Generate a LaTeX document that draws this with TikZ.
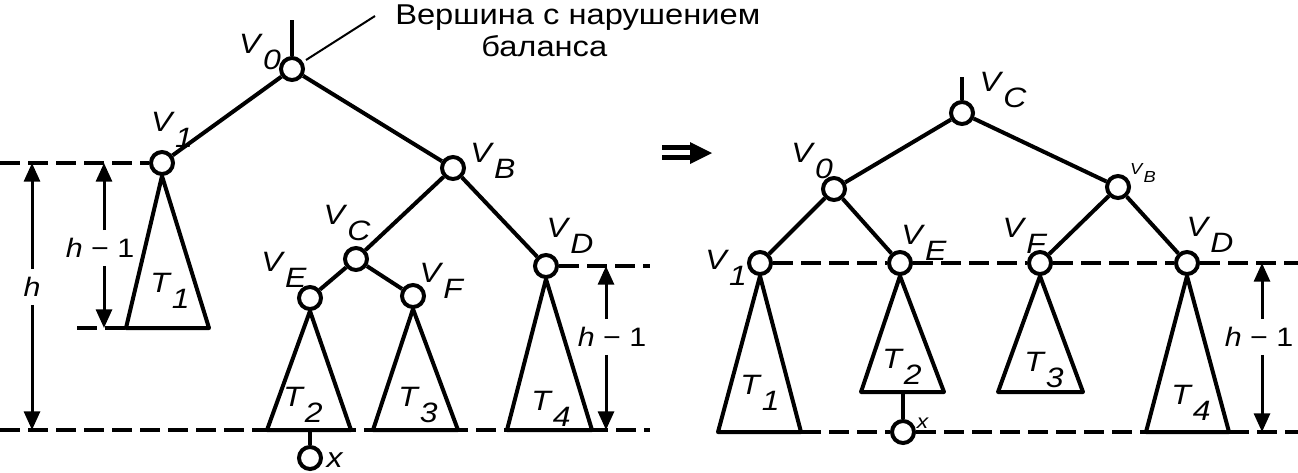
\documentclass[tikz,border=0pt]{standalone}
\usepackage{fontspec}
\setmainfont[FakeStretch=1.14]{Liberation Sans}
\usetikzlibrary{arrows.meta}
\newcommand\lab[2]{\textit{#1}\raisebox{-0.55em}{\textit{#2}}}
\begin{document}
\begin{tikzpicture}[x=0.75pt,y=-0.75pt,
  vert/.style={circle,draw,line width=3pt,minimum size=16.5pt,inner sep=0pt,fill=white},
  edge/.style={line width=3pt},
  dashln/.style={line width=3pt,dash pattern=on 15pt off 6pt},
  dim/.style={line width=2.25pt,-{Triangle[length=14pt,width=12pt]}},
  lbl/.style={inner sep=0pt,font=\fontsize{21}{21}\selectfont},
  slbl/.style={inner sep=0pt,font=\fontsize{12}{12}\selectfont},
  xlbl/.style={inner sep=0pt,font=\fontsize{15}{15}\selectfont},
  dlbl/.style={inner sep=6pt,font=\fontsize{20}{20}\selectfont},
  txt/.style={inner sep=0pt,anchor=west,font=\fontsize{21.5}{22}\selectfont},
  tri/.style={line width=3pt,line join=round}]
\useasboundingbox (0,0) rectangle (1298,472);

% ---------- left tree ----------
\node[vert] (v0) at (292,69) {};
\node[vert] (v1) at (162,163) {};
\node[vert] (vB) at (453,168) {};
\node[vert] (vC) at (356,259) {};
\node[vert] (vD) at (546,266) {};
\node[vert] (vE) at (310,298) {};
\node[vert] (vF) at (413,296) {};
\node[vert] (x1) at (310,458) {};
\coordinate (top0) at (292,20);
\coordinate (lead0) at (306,60);
\coordinate (lead1) at (375,16);

\draw[edge] (v0) -- (v1);
\draw[edge] (v0) -- (vB);
\draw[edge] (vB) -- (vC);
\draw[edge] (vB) -- (vD);
\draw[edge] (vC) -- (vE);
\draw[edge] (vC) -- (vF);
\draw[edge] (v0.north) -- (top0);
\draw[line width=1.5pt] (lead0) -- (lead1);

\node[txt] (t1) at (395,18) {Вершина с нарушением};
\node[txt] (t2) at (481,46) {баланса};

% subtrees
\coordinate (T1l) at (126,328); \coordinate (T1r) at (209,328);
\coordinate (T2l) at (267,430); \coordinate (T2r) at (351,430);
\coordinate (T3l) at (373,430); \coordinate (T3r) at (458,430);
\coordinate (T4l) at (507,430); \coordinate (T4r) at (592,430);
\coordinate (T2m) at (310,430);
\draw[tri] (v1.south) -- (T1l) -- (T1r) -- cycle;
\draw[tri] (vE.south) -- (T2l) -- (T2r) -- cycle;
\draw[tri] (vF.south) -- (T3l) -- (T3r) -- cycle;
\draw[tri] (vD.south) -- (T4l) -- (T4r) -- cycle;
\draw[edge] (T2m) -- (x1.north);

% dashed levels
\coordinate (dA) at (0,163);
\coordinate (dB) at (77,328);
\coordinate (dC) at (650,266);
\coordinate (dD) at (0,430);
\coordinate (dE) at (650,430);
\draw[dashln] (dA) -- (v1.west);
\draw[dashln] (dB) -- (T1l);
\draw[dashln] (vD.east) -- (dC);
\draw[dashln] (dD) -- (dE);

% labels
\node[lbl] (l0) at (260,52) {\lab{V}{0}};
\node[lbl] (l1) at (172,130) {\lab{V}{1}};
\node[lbl] (lB) at (493,161) {\lab{V}{B}};
\node[lbl] (lC) at (347,223) {\lab{V}{C}};
\node[lbl] (lE) at (284,270) {\lab{V}{E}};
\node[lbl] (lF) at (442,281) {\lab{V}{F}};
\node[lbl] (lD) at (570,236) {\lab{V}{D}};
\node[lbl] (lT1) at (170,291) {\lab{T}{1}};
\node[lbl] (lT2) at (303,405) {\lab{T}{2}};
\node[lbl] (lT3) at (418,405) {\lab{T}{3}};
\node[lbl] (lT4) at (551,409) {\lab{T}{4}};
\node[lbl] (lx) at (335,460) {\textit{x}};

% dimension arrows
\node[dlbl] (h) at (32,287) {\textit{h}};
\coordinate (hT) at (32,163); \coordinate (hB) at (32,430);
\draw[dim] (h) -- (hT);
\draw[dim] (h) -- (hB);
\node[dlbl] (h1) at (100,248) {\textit{h} − 1};
\coordinate (h1T) at (104,163); \coordinate (h1B) at (104,328);
\draw[dim] (h1.north -| h1T) -- (h1T);
\draw[dim] (h1.south -| h1B) -- (h1B);
\node[dlbl] (h2) at (612,337) {\textit{h} − 1};
\coordinate (h2T) at (606,266); \coordinate (h2B) at (606,430);
\draw[dim] (h2.north -| h2T) -- (h2T);
\draw[dim] (h2.south -| h2B) -- (h2B);

% implication arrow
\fill (662,145) rectangle (694,150);
\fill (662,155) rectangle (694,160);
\fill (690,142) -- (712,153) -- (690,164) -- cycle;

% ---------- right tree ----------
\node[vert] (rC) at (962,113) {};
\node[vert] (r0) at (834,189) {};
\node[vert] (rB) at (1118,187) {};
\node[vert] (r1) at (760,263) {};
\node[vert] (rE) at (900,263) {};
\node[vert] (rF) at (1040,263) {};
\node[vert] (rD) at (1187,263) {};
\node[vert] (x2) at (903,432) {};
\coordinate (topC) at (962,77);
\draw[edge] (rC.north) -- (topC);
\draw[edge] (rC) -- (r0);
\draw[edge] (rC) -- (rB);
\draw[edge] (r0) -- (r1);
\draw[edge] (r0) -- (rE);
\draw[edge] (rB) -- (rF);
\draw[edge] (rB) -- (rD);

\coordinate (R1l) at (718,432); \coordinate (R1r) at (801,432);
\coordinate (R2l) at (861,392); \coordinate (R2r) at (944,392);
\coordinate (R3l) at (998,392); \coordinate (R3r) at (1083,392);
\coordinate (R4l) at (1146,432); \coordinate (R4r) at (1229,432);
\coordinate (R2m) at (903,392);
\draw[tri] (r1.south) -- (R1l) -- (R1r) -- cycle;
\draw[tri] (rE.south) -- (R2l) -- (R2r) -- cycle;
\draw[tri] (rF.south) -- (R3l) -- (R3r) -- cycle;
\draw[tri] (rD.south) -- (R4l) -- (R4r) -- cycle;
\draw[edge] (R2m) -- (x2.north);

\coordinate (rdA) at (1298,263);
\coordinate (rdB) at (1298,432);
\draw[dashln] (r1.east) -- (rE.west);
\draw[dashln] (rE.east) -- (rF.west);
\draw[dashln] (rF.east) -- (rD.west);
\draw[dashln] (rD.east) -- (rdA);
\draw[dashln] (R1r) -- (x2.west);
\draw[dashln] (x2.east) -- (R4l);
\draw[dashln] (R4r) -- (rdB);

\node[lbl] (m0) at (812,161) {\lab{V}{0}};
\node[lbl] (mC) at (1003,90) {\lab{V}{C}};
\node[slbl] (mB) at (1143,173) {\lab{V}{B}};
\node[lbl] (m1) at (726,268) {\lab{V}{1}};
\node[lbl] (mE) at (924,243) {\lab{V}{E}};
\node[lbl] (mF) at (1025,236) {\lab{V}{F}};
\node[lbl] (mD) at (1210,235) {\lab{V}{D}};
\node[lbl] (mT1) at (760,393) {\lab{T}{1}};
\node[lbl] (mT2) at (902,367) {\lab{T}{2}};
\node[lbl] (mT3) at (1044,370) {\lab{T}{3}};
\node[lbl] (mT4) at (1191,403) {\lab{T}{4}};
\node[xlbl] (mx) at (923,423) {\textit{x}};

\node[dlbl] (h3) at (1259,337) {\textit{h} − 1};
\coordinate (h3T) at (1262,263); \coordinate (h3B) at (1262,432);
\draw[dim] (h3.north -| h3T) -- (h3T);
\draw[dim] (h3.south -| h3B) -- (h3B);
\end{tikzpicture}
\end{document}
